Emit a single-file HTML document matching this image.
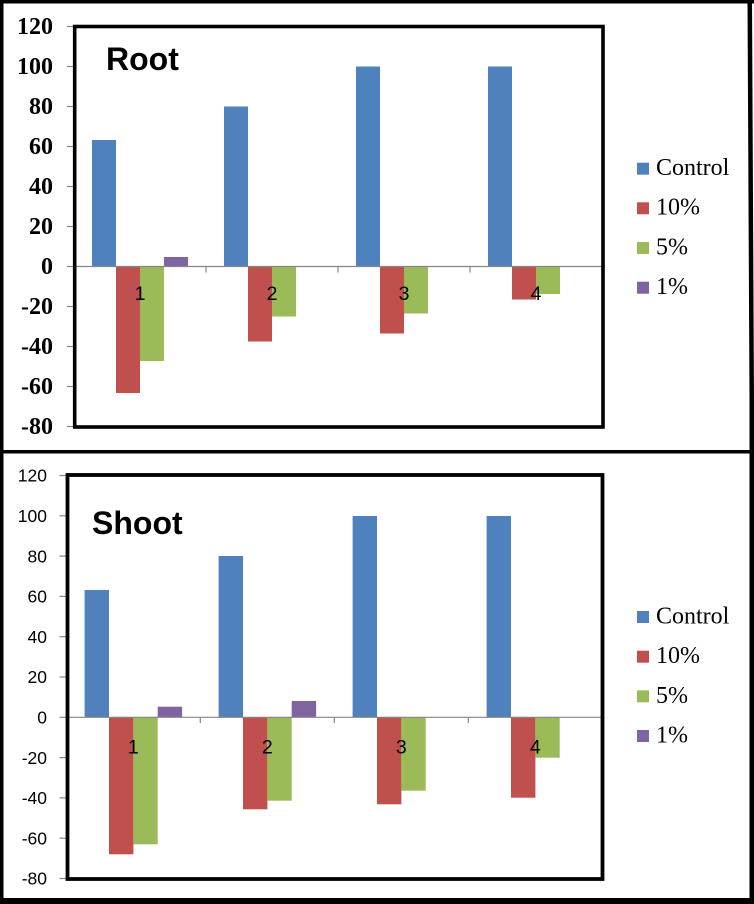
<!DOCTYPE html>
<html>
<head>
<meta charset="utf-8">
<style>
  html,body{margin:0;padding:0;background:#fff;}
  svg{display:block;}
</style>
</head>
<body>
<svg width="754" height="904" viewBox="0 0 754 904" xmlns="http://www.w3.org/2000/svg">
  <rect x="0" y="0" width="754" height="904" fill="#fff"/>

  <!-- ================= TOP CHART (Root) ================= -->
  <g>
    <rect x="92" y="140" width="24" height="126.5" fill="#4F81BD"/>
    <rect x="116" y="266.5" width="24" height="126.5" fill="#C0504D"/>
    <rect x="140" y="266.5" width="24" height="94.5" fill="#9BBB59"/>
    <rect x="164" y="257" width="24" height="9.5" fill="#8064A2"/>
    <rect x="224" y="106.5" width="24" height="160" fill="#4F81BD"/>
    <rect x="248" y="266.5" width="24" height="75" fill="#C0504D"/>
    <rect x="272" y="266.5" width="24" height="50" fill="#9BBB59"/>
    <rect x="356" y="66.5" width="24" height="200" fill="#4F81BD"/>
    <rect x="380" y="266.5" width="24" height="67" fill="#C0504D"/>
    <rect x="404" y="266.5" width="24" height="47" fill="#9BBB59"/>
    <rect x="488" y="66.5" width="24" height="200" fill="#4F81BD"/>
    <rect x="512" y="266.5" width="24" height="33" fill="#C0504D"/>
    <rect x="536" y="266.5" width="24" height="27.5" fill="#9BBB59"/>
  </g>
  <g stroke="#868686" stroke-width="1.2" fill="none">
    <line x1="74" y1="266.5" x2="602" y2="266.5"/>
    <line x1="206" y1="266.5" x2="206" y2="272.5"/>
    <line x1="338" y1="266.5" x2="338" y2="272.5"/>
    <line x1="470" y1="266.5" x2="470" y2="272.5"/>
    <line x1="602" y1="266.5" x2="602" y2="272.5"/>
    <line x1="67" y1="26.5" x2="74" y2="26.5"/>
    <line x1="67" y1="66.5" x2="74" y2="66.5"/>
    <line x1="67" y1="106.5" x2="74" y2="106.5"/>
    <line x1="67" y1="146.5" x2="74" y2="146.5"/>
    <line x1="67" y1="186.5" x2="74" y2="186.5"/>
    <line x1="67" y1="226.5" x2="74" y2="226.5"/>
    <line x1="67" y1="266.5" x2="74" y2="266.5"/>
    <line x1="67" y1="306.5" x2="74" y2="306.5"/>
    <line x1="67" y1="346.5" x2="74" y2="346.5"/>
    <line x1="67" y1="386.5" x2="74" y2="386.5"/>
    <line x1="67" y1="426.5" x2="74" y2="426.5"/>
  </g>
  <rect x="74.7" y="26.5" width="528.3" height="400.5" fill="none" stroke="#000" stroke-width="3.6"/>
  <g font-family="'Liberation Serif', serif" font-weight="bold" font-size="24" text-anchor="end" fill="#000">
    <text x="53" y="34">120</text>
    <text x="53" y="74">100</text>
    <text x="53" y="114">80</text>
    <text x="53" y="154">60</text>
    <text x="53" y="194">40</text>
    <text x="53" y="234">20</text>
    <text x="53" y="274">0</text>
    <text x="53" y="314">-20</text>
    <text x="53" y="354">-40</text>
    <text x="53" y="394">-60</text>
    <text x="53" y="434">-80</text>
  </g>
  <g font-family="'Liberation Sans', sans-serif" font-size="19.5" text-anchor="middle" fill="#000">
    <text x="140" y="300">1</text>
    <text x="272" y="300">2</text>
    <text x="404" y="300">3</text>
    <text x="536" y="300">4</text>
  </g>
  <text x="106" y="70" font-family="'Liberation Sans', sans-serif" font-weight="bold" font-size="32" fill="#000">Root</text>
  <g>
    <rect x="637" y="162.7" width="12" height="12" fill="#4F81BD"/>
    <rect x="637" y="202.3" width="12" height="12" fill="#C0504D"/>
    <rect x="637" y="242" width="12" height="12" fill="#9BBB59"/>
    <rect x="637" y="281.7" width="12" height="12" fill="#8064A2"/>
  </g>
  <g font-family="'Liberation Serif', serif" font-size="24" fill="#000">
    <text x="656" y="175">Control</text>
    <text x="656" y="214.7">10%</text>
    <text x="656" y="254.4">5%</text>
    <text x="656" y="294">1%</text>
  </g>

  <!-- ================= BOTTOM CHART (Shoot) ================= -->
  <g>
    <rect x="84.6" y="590" width="24.4" height="127.3" fill="#4F81BD"/>
    <rect x="109" y="717.3" width="24.4" height="137" fill="#C0504D"/>
    <rect x="133.3" y="717.3" width="24.4" height="127" fill="#9BBB59"/>
    <rect x="157.7" y="706.7" width="24.4" height="10.6" fill="#8064A2"/>
    <rect x="218.6" y="556" width="24.4" height="161.3" fill="#4F81BD"/>
    <rect x="243" y="717.3" width="24.4" height="92" fill="#C0504D"/>
    <rect x="267.3" y="717.3" width="24.4" height="83.4" fill="#9BBB59"/>
    <rect x="291.7" y="701" width="24.4" height="16.3" fill="#8064A2"/>
    <rect x="352.6" y="516" width="24.4" height="201.3" fill="#4F81BD"/>
    <rect x="377" y="717.3" width="24.4" height="87" fill="#C0504D"/>
    <rect x="401.3" y="717.3" width="24.4" height="73.4" fill="#9BBB59"/>
    <rect x="486.6" y="516" width="24.4" height="201.3" fill="#4F81BD"/>
    <rect x="511" y="717.3" width="24.4" height="80.4" fill="#C0504D"/>
    <rect x="535.3" y="717.3" width="24.4" height="40.4" fill="#9BBB59"/>
  </g>
  <g stroke="#868686" stroke-width="1.2" fill="none">
    <line x1="66.3" y1="717.3" x2="602" y2="717.3"/>
    <line x1="200.3" y1="717.3" x2="200.3" y2="723"/>
    <line x1="334.3" y1="717.3" x2="334.3" y2="723"/>
    <line x1="468.3" y1="717.3" x2="468.3" y2="723"/>
    <line x1="602" y1="717.3" x2="602" y2="723"/>
    <line x1="59.5" y1="475.5" x2="66.5" y2="475.5"/>
    <line x1="59.5" y1="515.8" x2="66.5" y2="515.8"/>
    <line x1="59.5" y1="556.1" x2="66.5" y2="556.1"/>
    <line x1="59.5" y1="596.4" x2="66.5" y2="596.4"/>
    <line x1="59.5" y1="636.7" x2="66.5" y2="636.7"/>
    <line x1="59.5" y1="677" x2="66.5" y2="677"/>
    <line x1="59.5" y1="717.3" x2="66.5" y2="717.3"/>
    <line x1="59.5" y1="757.6" x2="66.5" y2="757.6"/>
    <line x1="59.5" y1="797.9" x2="66.5" y2="797.9"/>
    <line x1="59.5" y1="838.2" x2="66.5" y2="838.2"/>
    <line x1="59.5" y1="878.5" x2="66.5" y2="878.5"/>
  </g>
  <rect x="67.5" y="475" width="535" height="404" fill="none" stroke="#000" stroke-width="3.8"/>
  <g font-family="'Liberation Sans', sans-serif" font-size="17.5" text-anchor="end" fill="#000">
    <text x="47" y="481.7">120</text>
    <text x="47" y="522">100</text>
    <text x="47" y="562.3">80</text>
    <text x="47" y="602.6">60</text>
    <text x="47" y="642.9">40</text>
    <text x="47" y="683.2">20</text>
    <text x="47" y="723.5">0</text>
    <text x="47" y="763.8">-20</text>
    <text x="47" y="804.1">-40</text>
    <text x="47" y="844.4">-60</text>
    <text x="47" y="884.7">-80</text>
  </g>
  <g font-family="'Liberation Sans', sans-serif" font-size="19.5" text-anchor="middle" fill="#000">
    <text x="133.3" y="753.5">1</text>
    <text x="267.3" y="753.5">2</text>
    <text x="401.3" y="753.5">3</text>
    <text x="535.3" y="753.5">4</text>
  </g>
  <text x="92" y="534" font-family="'Liberation Sans', sans-serif" font-weight="bold" font-size="32" fill="#000">Shoot</text>
  <g>
    <rect x="637" y="611" width="12" height="12" fill="#4F81BD"/>
    <rect x="637" y="650.7" width="12" height="12" fill="#C0504D"/>
    <rect x="637" y="690.3" width="12" height="12" fill="#9BBB59"/>
    <rect x="637" y="730" width="12" height="12" fill="#8064A2"/>
  </g>
  <g font-family="'Liberation Serif', serif" font-size="24" fill="#000">
    <text x="656" y="623.5">Control</text>
    <text x="656" y="663.2">10%</text>
    <text x="656" y="702.8">5%</text>
    <text x="656" y="742.5">1%</text>
  </g>

  <!-- ================= OUTER BORDERS ================= -->
  <rect x="0" y="0" width="754" height="3.5" fill="#000"/>
  <rect x="0" y="0" width="3.5" height="904" fill="#000"/>
  <rect x="0" y="450" width="754" height="3.5" fill="#000"/>
  <rect x="0" y="898" width="754" height="6" fill="#000"/>
  <polygon points="747.5,0 752,0 754,400 754,904 749.5,904 749.5,400" fill="#000"/>
</svg>
</body>
</html>
